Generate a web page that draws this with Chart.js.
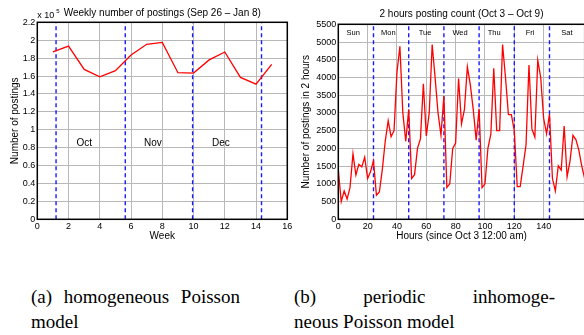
<!DOCTYPE html>
<html>
<head>
<meta charset="utf-8">
<script src="https://cdn.jsdelivr.net/npm/chart.js@4/dist/chart.umd.min.js"></script>
<style>
  body { margin: 0; width: 584px; height: 335px; overflow: hidden; background: #fff; position: relative; }
  #weekChart { position: absolute; left: 0; top: 0; }
  #hourChart { position: absolute; left: 290px; top: 0; }
  .cap { position: absolute; font-family: "Liberation Serif", "Times New Roman", serif; font-size: 19px; line-height: 25px; color: #000; white-space: nowrap; }
  .just { text-align: justify; text-align-last: justify; }
</style>
</head>
<body>
<canvas id="weekChart" width="296" height="245"></canvas>
<canvas id="hourChart" width="300" height="245"></canvas>

<div class="cap just" style="left:31px;top:284px;width:209px;">(a) homogeneous Poisson</div>
<div class="cap" style="left:31px;top:309px;">model</div>
<div class="cap just" style="left:294px;top:284px;width:261px;">(b) periodic inhomoge-</div>
<div class="cap" style="left:294px;top:309px;">neous Poisson model</div>

<script>
// (a) weekly postings
const weeks = [1, 2, 3, 4, 5, 6, 7, 8, 9, 10, 11, 12, 13, 14, 15];
const weeklyPosts = [187000, 193500, 167400, 159200, 166000, 183500, 195400, 197600,
  163700, 163300, 178000, 186800, 158400, 151000, 173000];
const monthBreaks = [1.2, 5.63, 9.94, 14.35];
const monthNames = ['Oct', 'Nov', 'Dec'];
const monthPos = [3.0, 7.4, 11.75];

// (b) 2 hour counts, Oct 3 - Oct 9
const hours = [0, 2, 4, 6, 8, 10, 12, 14, 16, 18, 20, 22, 24, 26, 28, 30, 32, 34, 36, 38,
  40, 42, 44, 46, 48, 50, 52, 54, 56, 58, 60, 62, 64, 66, 68, 70, 72, 74, 76, 78,
  80, 82, 84, 86, 88, 90, 92, 94, 96, 98, 100, 102, 104, 106, 108, 110, 112, 114, 116, 118,
  120, 122, 124, 126, 128, 130, 132, 134, 136, 138, 140, 142, 144, 146, 148, 150, 152, 154, 156, 158,
  160, 162, 164, 166, 168];
const counts = [1400, 500, 800, 570, 900, 1850, 1250, 1550, 1480, 1750, 1150, 1350, 1650, 680, 770, 1400, 2200, 2780, 2330, 2500,
  4150, 4880, 3000, 2200, 3100, 1150, 1260, 2000, 2270, 3820, 2350, 3000, 4930, 4000, 3000, 2370, 3480, 900, 1000, 2000,
  2150, 3970, 2690, 3100, 4300, 3800, 3100, 2230, 3120, 890, 1000, 2000, 2400, 4260, 2500, 2500, 4930, 4000, 2950, 2950,
  2500, 920, 920, 1500, 2100, 4350, 2550, 2320, 4490, 4000, 2850, 2410, 2970, 1150, 800, 1510, 1390, 2630, 1200, 1650,
  2370, 2250, 1950, 1500, 1150];
const dayBreaks = [24, 48, 72, 96, 120, 144];
const dayNames = ['Sun', 'Mon', 'Tue', 'Wed', 'Thu', 'Fri', 'Sat'];
const dayPos = [10.2, 34.1, 59.2, 83, 106.3, 130.8, 155.9];

const FONT = '"Liberation Sans", Arial, Helvetica, sans-serif';

// box round the plot + text labels inside
const boxPlugin = {
  id: 'box',
  afterDraw(chart, args, opts) {
    const { ctx, chartArea: a, scales } = chart;
    ctx.save();
    ctx.strokeStyle = '#000';
    ctx.lineWidth = 1.5;
    ctx.strokeRect(a.left, a.top, a.right - a.left, a.bottom - a.top);
    if (opts.labels) {
      ctx.fillStyle = '#000';
      ctx.font = opts.size + 'px ' + FONT;
      ctx.textAlign = 'center';
      ctx.textBaseline = 'middle';
      opts.labels.forEach((t, i) => {
        ctx.fillText(t, scales.x.getPixelForValue(opts.xs[i]), scales.y.getPixelForValue(opts.y));
      });
    }
    if (opts.exponent) {
      ctx.font = '9px ' + FONT;
      ctx.textAlign = 'left';
      ctx.textBaseline = 'alphabetic';
      ctx.fillText('x 10', a.left, a.top - 4);
      ctx.font = '6px ' + FONT;
      ctx.fillText('5', a.left + 19, a.top - 9);
    }
    ctx.restore();
  }
};

function divider(x, top) {
  return {
    data: [{ x: x, y: 0 }, { x: x, y: top }],
    borderColor: '#1a1aff',
    borderWidth: 1.4,
    borderDash: [4, 3],
    pointRadius: 0
  };
}

function axisOpts(min, max, step, title, titlePad, fit) {
  return {
    type: 'linear', min: min, max: max,
    border: { display: false },
    grid: { color: '#b8b8b8', lineWidth: 1, drawTicks: false, borderDash: [1, 2] },
    ticks: { stepSize: step, padding: 2, color: '#000', font: { family: FONT, size: 9 } },
    title: { display: true, text: title, color: '#000', font: { family: FONT, size: 10 }, padding: titlePad },
    afterFit: fit
  };
}

const weekX = axisOpts(0, 16, 2, 'Week', { top: 0, bottom: 3 }, s => { s.height = 25.7; });
const weekY = axisOpts(0, 220000, 20000, 'Number of postings', { top: 9, bottom: 0 }, s => { s.width = 37.3; });
weekY.ticks.callback = v => String(+(v / 1e5).toFixed(1));

new Chart(document.getElementById('weekChart'), {
  type: 'line',
  data: {
    datasets: [{
      data: weeks.map((w, i) => ({ x: w, y: weeklyPosts[i] })),
      borderColor: '#ff0000',
      borderWidth: 1.3,
      pointRadius: 0,
      tension: 0
    }].concat(monthBreaks.map(b => divider(b, 220000)))
  },
  options: {
    responsive: false,
    devicePixelRatio: 1,
    animation: false,
    layout: { padding: { left: 0, right: 8.7, top: 0, bottom: 0 } },
    scales: { x: weekX, y: weekY },
    plugins: {
      legend: { display: false },
      tooltip: { enabled: false },
      title: {
        display: true, fullSize: false,
        text: 'Weekly number of postings (Sep 26 \u2013 Jan 8)',
        color: '#000', font: { family: FONT, size: 10, weight: 'normal' },
        padding: { top: 7, bottom: 3.3 }
      },
      box: { labels: monthNames, xs: monthPos, y: 85000, size: 10, exponent: true }
    }
  },
  plugins: [boxPlugin]
});

const hourX = axisOpts(0, 168, 20, 'Hours (since Oct 3 12:00 am)', { top: 0, bottom: 3 }, s => { s.height = 25.7; });
hourX.afterBuildTicks = s => { s.ticks = s.ticks.filter(t => t.value % 20 === 0); };
const hourY = axisOpts(0, 5500, 500, 'Number of postings in 2 hours', { top: 10, bottom: 0 }, s => { s.width = 48.3; });
hourY.ticks.callback = v => String(v);

new Chart(document.getElementById('hourChart'), {
  type: 'line',
  data: {
    datasets: [{
      data: hours.map((h, i) => ({ x: h, y: counts[i] })),
      borderColor: '#ff0000',
      borderWidth: 1.3,
      pointRadius: 0,
      tension: 0
    }].concat(dayBreaks.map(b => divider(b, 5500)))
  },
  options: {
    responsive: false,
    devicePixelRatio: 1,
    animation: false,
    layout: { padding: { left: 0, right: 5.3, top: 0, bottom: 0 } },
    scales: { x: hourX, y: hourY },
    plugins: {
      legend: { display: false },
      tooltip: { enabled: false },
      title: {
        display: true, fullSize: false,
        text: '2 hours posting count (Oct 3 \u2013 Oct 9)',
        color: '#000', font: { family: FONT, size: 10, weight: 'normal' },
        padding: { top: 8, bottom: 4.3 }
      },
      box: { labels: dayNames, xs: dayPos, y: 5250, size: 7.5 }
    }
  },
  plugins: [boxPlugin]
});
</script>
</body>
</html>
